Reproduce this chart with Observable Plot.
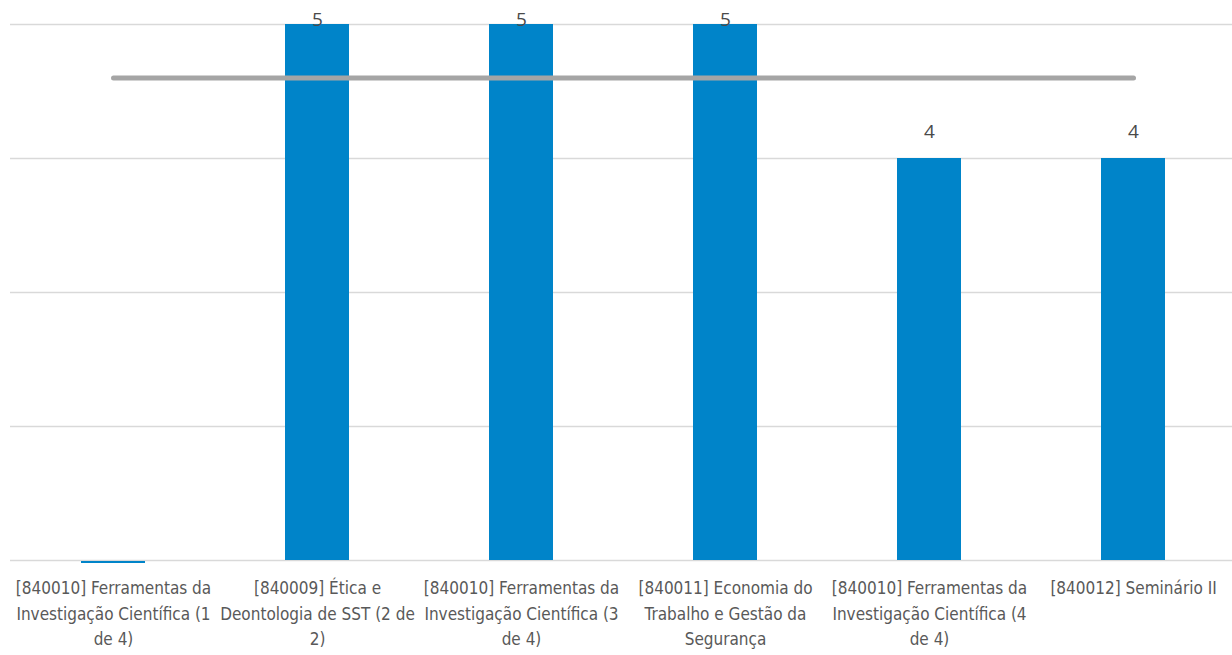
<!DOCTYPE html>
<html>
<head>
<meta charset="utf-8">
<script src="https://cdn.jsdelivr.net/npm/d3@7"></script>
<script src="https://cdn.jsdelivr.net/npm/@observablehq/plot@0.6"></script>
<style>
  html, body { margin: 0; padding: 0; background: #ffffff; }
  #chart { width: 1232px; height: 655px; overflow: hidden; }
</style>
</head>
<body>
<div id="chart"></div>
<script>
// Categories (full names) and their wrapped tick labels
const categories = [
  "[840010] Ferramentas da Investigação Científica (1 de 4)",
  "[840009] Ética e Deontologia de SST (2 de 2)",
  "[840010] Ferramentas da Investigação Científica (3 de 4)",
  "[840011] Economia do Trabalho e Gestão da Segurança",
  "[840010] Ferramentas da Investigação Científica (4 de 4)",
  "[840012] Seminário II"
];
const tickLabels = [
  "[840010] Ferramentas da\nInvestigação Científica (1\nde 4)",
  "[840009] Ética e\nDeontologia de SST (2 de\n2)",
  "[840010] Ferramentas da\nInvestigação Científica (3\nde 4)",
  "[840011] Economia do\nTrabalho e Gestão da\nSegurança",
  "[840010] Ferramentas da\nInvestigação Científica (4\nde 4)",
  "[840012] Seminário II"
];
// Series values (first course has no value)
const values = [null, 5, 5, 5, 4, 4];
// Y-axis gridline ticks
const yTicks = [1, 2, 3, 4, 5];

const data = categories.map((c, i) => ({cat: c, label: tickLabels[i], value: values[i]}));
const labelOf = new Map(data.map(d => [d.cat, d.label]));
const present = data.filter(d => d.value != null);
const missing = data.filter(d => d.value == null);
const avg = d3.mean(present, d => d.value);

const BLUE = "#0084c9";
const GRAY = "#a5a5a5";
const TEXT = "#595959";
const AXIS_FONT = "'Liberation Sans Narrow', 'DejaVu Sans Condensed', Roboto, sans-serif";
const LABEL_FONT = "'Open Sans', Roboto, sans-serif";

const chart = Plot.plot({
  width: 1232,
  height: 655,
  marginTop: 24,
  marginBottom: 95,
  marginLeft: 10,
  marginRight: 0,
  style: {background: "#ffffff", color: TEXT, fontFamily: AXIS_FONT, overflow: "visible"},
  x: {domain: categories, range: [10, 1236], padding: 0, label: null},
  y: {domain: [1, 5], range: [560, 24], label: null, axis: null},
  marks: [
    Plot.gridY(yTicks, {stroke: "#d9d9d9", strokeOpacity: 1, strokeWidth: 1.5}),
    Plot.barY(present, {x: "cat", y1: () => 1, y2: "value", fill: BLUE, insetLeft: 70, insetRight: 70}),
    Plot.tickY(missing, {x: "cat", y: () => 1, stroke: BLUE, strokeWidth: 2, dy: 1.5, insetLeft: 70, insetRight: 70}),
    Plot.lineY(data, {x: "cat", y: () => avg, stroke: GRAY, strokeWidth: 5, strokeLinecap: "round"}),
    Plot.text(present.filter(d => d.value < 5), {
      x: "cat", y: "value", text: d => String(d.value), dy: -21, lineAnchor: "bottom",
      fill: "#4a4a4a", fontSize: 19, fontFamily: LABEL_FONT
    }),
    Plot.text(present.filter(d => d.value >= 5), {
      x: "cat", y: "value", text: d => String(d.value), dy: 1, lineAnchor: "bottom",
      fill: "#4a4a4a", fontSize: 19, fontFamily: LABEL_FONT
    }),
    Plot.axisX({
      tickSize: 0, tickPadding: 16, lineHeight: 1.48, fontSize: 17,
      tickFormat: c => labelOf.get(c), fill: TEXT, lineAnchor: "top"
    })
  ]
});
document.getElementById("chart").appendChild(chart);
</script>
</body>
</html>
